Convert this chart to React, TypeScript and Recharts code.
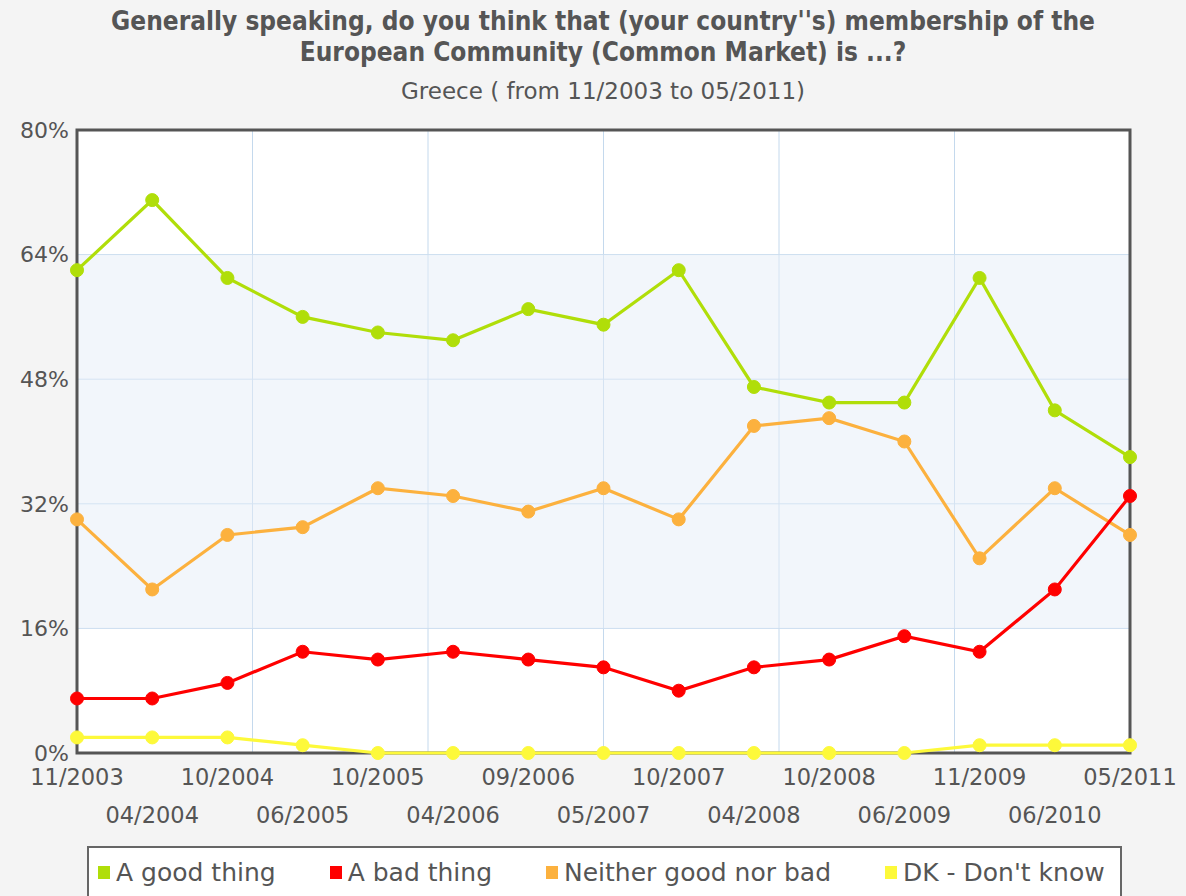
import { LineChart, Line, XAxis, YAxis, CartesianGrid, ReferenceArea } from "recharts"

const surveys = [
  "11/2003", "04/2004", "10/2004", "06/2005", "10/2005", "04/2006", "09/2006", "05/2007",
  "10/2007", "04/2008", "10/2008", "06/2009", "11/2009", "06/2010", "05/2011",
]
const goodThing = [62, 71, 61, 56, 54, 53, 57, 55, 62, 47, 45, 45, 61, 44, 38]
const badThing = [7, 7, 9, 13, 12, 13, 12, 11, 8, 11, 12, 15, 13, 21, 33]
const neither = [30, 21, 28, 29, 34, 33, 31, 34, 30, 42, 43, 40, 25, 34, 28]
const dontKnow = [2, 2, 2, 1, 0, 0, 0, 0, 0, 0, 0, 0, 1, 1, 1]
const yTicks = [0, 16, 32, 48, 64, 80]

const data = surveys.map((date, i) => ({
  date,
  good: goodThing[i],
  bad: badThing[i],
  neither: neither[i],
  dk: dontKnow[i],
}))

const series = [
  { key: "good", name: "A good thing", color: "#b0de09" },
  { key: "bad", name: "A bad thing", color: "#ff0000" },
  { key: "neither", name: "Neither good nor bad", color: "#fcb13e" },
  { key: "dk", name: "DK - Don't know", color: "#fdf93a" },
]
// drawing order: red over orange, lime on top
const drawOrder = ["dk", "neither", "bad", "good"]

const textColor = "#555"
const font = "'DejaVu Sans', Verdana, sans-serif"

function DateTick(props: any) {
  const { x, y, payload, index } = props
  const lower = index % 2 === 1
  return (
    <text
      x={x}
      y={y + (lower ? 70 : 32)}
      textAnchor="middle"
      fill={textColor}
      fontSize={22.5}
      fontFamily={font}
    >
      {payload.value}
    </text>
  )
}

function sixths({ offset }: any) {
  return [1, 2, 3, 4, 5].map((i) => offset.left + (offset.width * i) / 6)
}

export default function App() {
  return (
    <div
      style={{
        position: "absolute",
        left: 0,
        top: 0,
        width: 1186,
        height: 896,
        background: "#f4f4f4",
        fontFamily: font,
        color: textColor,
        overflow: "hidden",
      }}
    >
      <div
        style={{
          position: "absolute",
          top: 6,
          left: 20,
          width: 1166,
          textAlign: "center",
          fontFamily: "'DejaVu Sans Condensed', 'DejaVu Sans', sans-serif",
          fontWeight: "bold",
          fontSize: 26,
          lineHeight: "31px",
        }}
      >
        Generally speaking, do you think that (your country''s) membership of the
        <br />
        European Community (Common Market) is ...?
      </div>
      <div
        style={{
          position: "absolute",
          top: 78,
          left: 20,
          width: 1166,
          textAlign: "center",
          fontSize: 23,
        }}
      >
        Greece ( from 11/2003 to 05/2011)
      </div>

      <div style={{ position: "absolute", left: 0, top: 0 }}>
        <LineChart
          width={1186}
          height={845}
          data={data}
          margin={{ top: 130, right: 56, bottom: 12, left: 7 }}
        >
          <CartesianGrid
            fill="#fff"
            stroke="#c4d9ed"
            strokeWidth={1}
            verticalCoordinatesGenerator={sixths}
          />
          <ReferenceArea y1={16} y2={64} fill="#e6eef7" fillOpacity={0.5} stroke="none" />
          <XAxis
            dataKey="date"
            axisLine={false}
            tickLine={false}
            tickSize={0}
            tickMargin={0}
            interval={0}
            height={80}
            tick={<DateTick />}
          />
          <YAxis
            domain={[0, 80]}
            ticks={yTicks}
            tickFormatter={(v) => `${v}%`}
            axisLine={false}
            tickLine={false}
            tickSize={0}
            tickMargin={8}
            width={70}
            tick={{ fontSize: 22, fill: textColor, fontFamily: font }}
          />
          <ReferenceArea
            y1={0}
            y2={80}
            fill="none"
            stroke="#555"
            strokeWidth={3}
            ifOverflow="visible"
          />
          {drawOrder.map((k) => {
            const s = series.find((x) => x.key === k)!
            return (
              <Line
                key={s.key}
                dataKey={s.key}
                name={s.name}
                stroke={s.color}
                strokeWidth={3.2}
                dot={{ r: 6.5, fill: s.color, stroke: s.color, strokeWidth: 1 }}
                activeDot={false}
                isAnimationActive={false}
              />
            )
          })}
        </LineChart>
      </div>

      <div
        style={{
          position: "absolute",
          left: 87,
          top: 846,
          width: 1035,
          height: 52,
          border: "2px solid #666",
          background: "#fff",
          display: "flex",
          alignItems: "center",
          paddingLeft: 9,
          boxSizing: "border-box",
          gap: 54,
          fontSize: 25,
        }}
      >
        {series.map((s) => (
          <div key={s.key} style={{ display: "flex", alignItems: "center" }}>
            <span
              style={{
                display: "inline-block",
                width: 12,
                height: 13,
                background: s.color,
                marginRight: 6,
              }}
            />
            <span>{s.name}</span>
          </div>
        ))}
      </div>
    </div>
  )
}
